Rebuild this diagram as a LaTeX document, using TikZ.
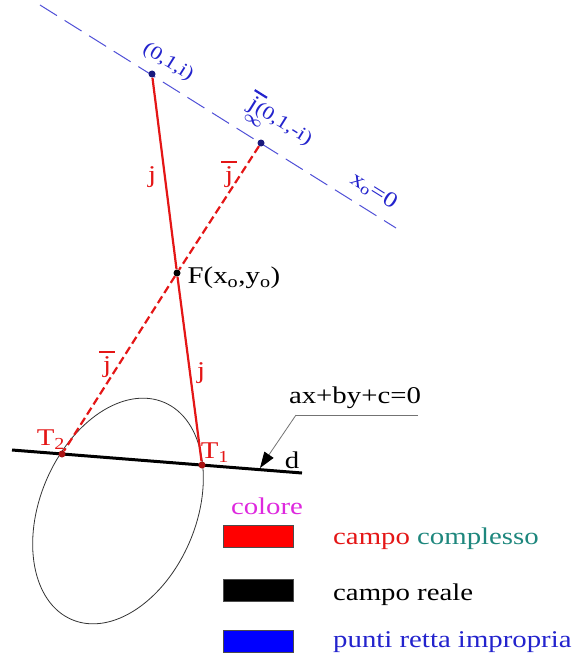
\documentclass[tikz,border=0pt]{standalone}
\usepackage{fontspec}
\setmainfont{Liberation Serif}
\usetikzlibrary{arrows.meta}
\definecolor{redc}{RGB}{228,22,22}
\definecolor{redd}{RGB}{170,20,20}
\definecolor{tealc}{RGB}{30,135,125}
\definecolor{magc}{RGB}{222,40,222}
\definecolor{bluet}{RGB}{35,35,205}
\definecolor{bluel}{RGB}{80,80,215}
\definecolor{blued}{RGB}{25,25,125}
\newcommand\sx[1]{\scalebox{1.2}[1]{#1}}
\newcommand\jbar{{\ooalign{\hidewidth\raisebox{0.8em}{\rule{0.55em}{0.1em}}\hidewidth\cr j\cr}}}
\begin{document}
\begin{tikzpicture}[x=1pt,y=-1pt,
  pt/.style={circle,inner sep=0pt,minimum size=7pt,fill=#1},
  lbl/.style={inner sep=0pt,font=\fontsize{24}{26}\selectfont},
  blbl/.style={inner sep=0pt,font=\fontsize{19}{21}\selectfont,text=bluet},
  redline/.style={draw=redc,line width=2.2pt},
  legbox/.style={draw=black!70,line width=0.8pt,minimum width=70pt,minimum height=22pt,inner sep=0pt}]
\useasboundingbox (0,0) rectangle (583,661);
% improper line
\coordinate (L1) at (40,5);
\coordinate (L2) at (396,228);
\draw[bluel,line width=1pt,dash pattern=on 20pt off 9pt] (L1) -- (L2);
% ellipse
\draw[black!80,line width=0.8pt,shift={(118,511)},rotate=67] (0,0) ellipse [x radius=118,y radius=78];
% line d
\coordinate (D1) at (12,450);
\coordinate (D2) at (302,473);
\draw[black,line width=3pt] (D1) -- (D2);
% points
\node[pt=blued] (A) at (152,74) {};
\node[pt=blued] (B) at (261,143) {};
\node[pt=black] (F) at (177,273) {};
\node[pt=redd] (T1) at (202,465) {};
\node[pt=redd] (T2) at (62,454) {};
% red lines
\draw[redline] (A) -- (F) -- (T1);
\draw[redline,dash pattern=on 8pt off 4pt] (B) -- (F) -- (T2);
% blue labels
\node[blbl,rotate=-32] (lA) at (168,62) {\sx{(0,1,i)}};
\node[blbl,rotate=-32] (lB) at (280,123) {\sx{\rlap{\hspace{0.05em}\raisebox{-0.6em}{\fontsize{15}{15}\selectfont\boldmath$\infty$}}{\fontsize{22}{24}\selectfont\jbar}(0,1,-i)}};
\node[blbl,rotate=-32,font=\fontsize{22}{24}\selectfont] (lx) at (374,191) {\sx{x\textsubscript{o}=0}};
% red labels
\node[lbl,text=redc] (j1) at (152,177) {\sx{j}};
\node[lbl,text=redc] (jb1) at (229,174) {\sx{\jbar}};
\node[lbl,text=redc] (jb2) at (107,364) {\sx{\jbar}};
\node[lbl,text=redc] (j2) at (201,373) {\sx{j}};
\node[lbl,text=redc] (lT2) at (51,440) {\sx{T\textsubscript{2}}};
\node[lbl,text=redc] (lT1) at (215,453) {\sx{T\textsubscript{1}}};
% F label
\node[lbl] (lF) at (234,278) {\sx{F(x\textsubscript{o},y\textsubscript{o})}};
% equation and leader
\node[lbl] (eq) at (355,398) {\sx{ax+by+c=0}};
\coordinate (P1) at (418,415);
\coordinate (P2) at (296,415);
\coordinate (P3) at (260,468);
\draw[black!55,line width=0.8pt] (P1) -- (P2);
\draw[black!55,line width=0.8pt,-{Triangle[length=16pt,width=11pt,fill=black,color=black]}] (P2) -- (P3);
\node[lbl] (ld) at (292,460) {\sx{d}};
% legend
\node[lbl,text=magc] (col) at (267,506) {\sx{colore}};
\node[legbox,fill=red] (r1) at (258,536) {};
\node[legbox,fill=black] (r2) at (258,590) {};
\node[legbox,fill=blue] (r3) at (258,641) {};
\node[lbl,anchor=west] (t1) at (333,539) {\sx{\textcolor{redc}{campo} \textcolor{tealc}{complesso}}};
\node[lbl,anchor=west] (t2) at (333,595) {\sx{campo reale}};
\node[lbl,anchor=west,text=bluet] (t3) at (333,642) {\sx{punti retta impropria}};
\end{tikzpicture}
\end{document}
